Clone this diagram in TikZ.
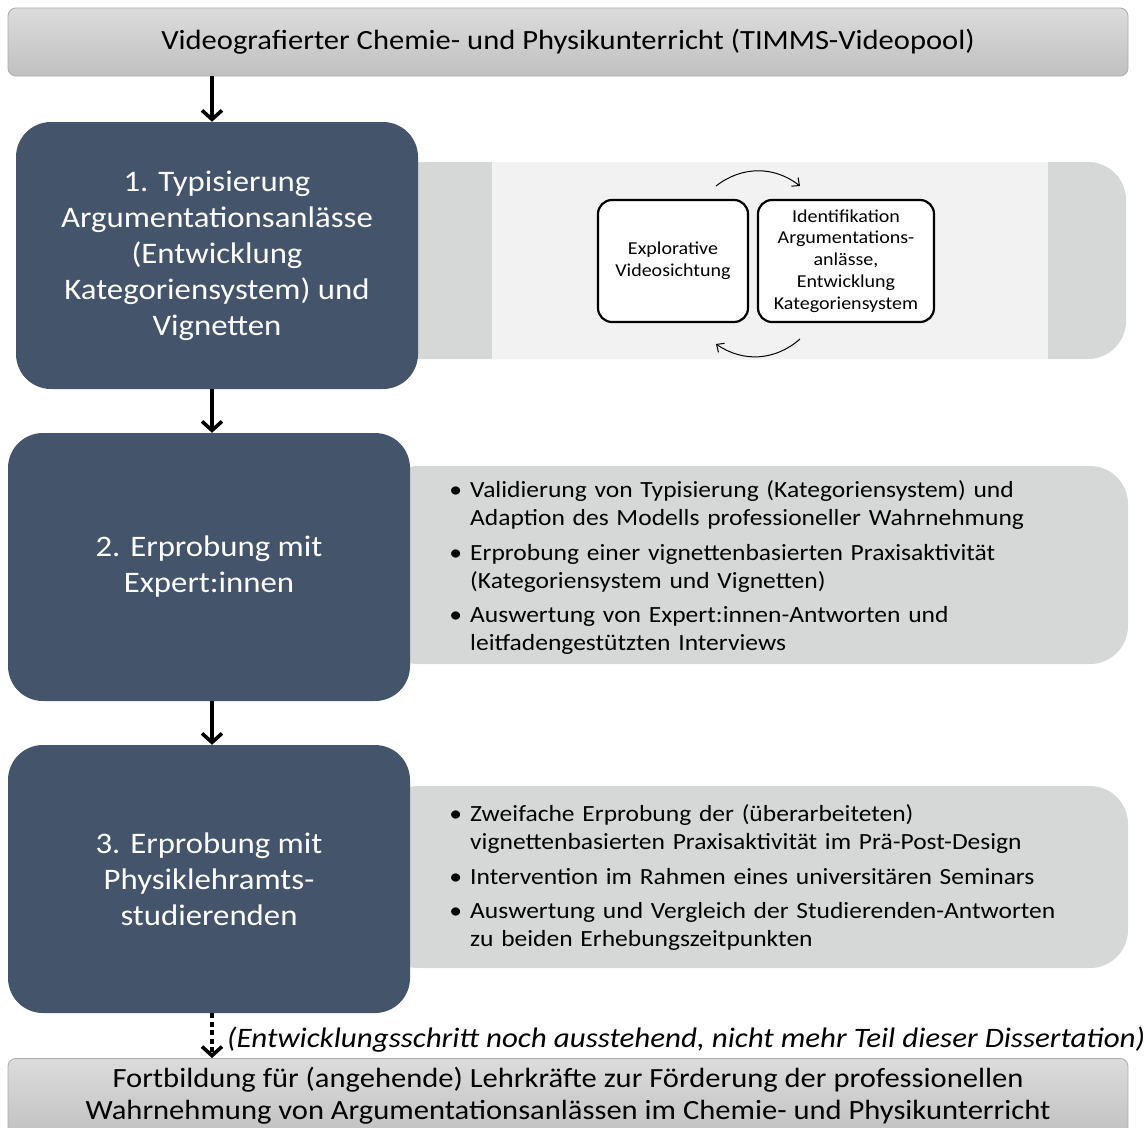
\documentclass[tikz,border=0pt]{standalone}
\usepackage{fontspec}
\setmainfont{Carlito}[FakeStretch=1.1]
\usepackage{enumitem}
\usetikzlibrary{arrows.meta,positioning,calc}
\definecolor{darkbox}{HTML}{44546A}
\definecolor{panelgray}{HTML}{D6D8D8}
\definecolor{panellight}{HTML}{F2F2F2}
\definecolor{topgrayA}{HTML}{DCDCDC}
\definecolor{topgrayB}{HTML}{C0C0C0}
\definecolor{grayborder}{HTML}{ABABAB}
\tikzset{
  graybar/.style={draw=grayborder,line width=0.8pt,top color=topgrayA,bottom color=topgrayB,rounded corners=8pt,inner sep=0pt,align=center,font=\fontsize{27.8}{32}\selectfont},
  bartext/.style={inner sep=0pt,align=center,font=\fontsize{27.8}{32}\selectfont},
  stepbox/.style={fill=darkbox,rounded corners=35pt,text=white,align=center,inner sep=0pt,font=\fontsize{29.8}{36}\selectfont},
  panel/.style={fill=panelgray,rounded corners=38pt},
  minibox/.style={draw=black,line width=2.2pt,fill=white,rounded corners=14pt,align=center,inner sep=0pt,font=\fontsize{18.2}{21.8}\selectfont},
  bigarrow/.style={line width=3.6pt,-{Straight Barb[length=9pt,width=20pt]}},
  dasharrow/.style={line width=3.6pt,dash pattern=on 5pt off 3.5pt,-{Straight Barb[length=9pt,width=20pt]}},
  cyclearrow/.style={line width=1pt,-{Straight Barb[length=6pt,width=11pt]}},
  bullettext/.style={anchor=west,inner sep=0pt,text width=675pt,align=left,font=\fontsize{23.2}{28}\selectfont}
}
\newcommand{\bulletlist}[1]{\begin{itemize}[leftmargin=18pt,labelsep=8pt,itemsep=6.5pt,parsep=0pt,topsep=0pt,partopsep=0pt,label=\textbullet]#1\end{itemize}}
\begin{document}
\begin{tikzpicture}[x=1pt,y=-1pt]
\useasboundingbox (0,0) rectangle (1148,1127);
\clip (0,0) rectangle (1148,1127);

% panels behind the dark boxes
\fill[panel] (380,162) rectangle (1126,359);
\fill[panellight] (492,162) rectangle (1048,359);
\fill[panel] (380,466) rectangle (1128,664);
\fill[panel] (380,786) rectangle (1128,968);

% top and bottom bars
\node[graybar,minimum width=1120pt,minimum height=68pt] (top) at (568,42)
  {Videografierter Chemie- und Physikunterricht (TIMMS-Videopool)};
\node[graybar,minimum width=1120pt,minimum height=80pt,anchor=north] (bottom) at (568,1058) {};
\node[bartext] (bottomtext) at (568,1095.5)
  {Fortbildung für (angehende) Lehrkräfte zur Förderung der professionellen\\ Wahrnehmung von Argumentationsanlässen im Chemie- und Physikunterricht};

% step boxes
\node[stepbox,minimum width=402pt,minimum height=267pt] (s1) at (217,255.5)
  {1. Typisierung\\Argumentationsanlässe\\(Entwicklung\\Kategoriensystem) und\\Vignetten};
\node[stepbox,minimum width=402pt,minimum height=268pt] (s2) at (209,567)
  {2. Erprobung mit\\Expert:innen};
\node[stepbox,minimum width=402pt,minimum height=268pt] (s3) at (209,879)
  {3. Erprobung mit\\Physiklehramts-\\studierenden};

% mini boxes in panel 1
\node[minibox,minimum width=150pt,minimum height=122pt] (m1) at (673,261)
  {Explorative\\Videosichtung};
\node[minibox,minimum width=176pt,minimum height=122pt] (m2) at (846,261)
  {Identifikation\\Argumentations-\\anlässe,\\Entwicklung\\Kategoriensystem};
\coordinate (c1) at (716,186);
\coordinate (c2) at (800,186);
\coordinate (c3) at (800,339);
\coordinate (c4) at (716,344);
\draw[cyclearrow] (c1) to[bend left=38] (c2);
\draw[cyclearrow] (c3) to[bend left=38] (c4);

% bullet texts
\node[bullettext] (t2) at (452,562) {\bulletlist{
  \item Validierung von Typisierung (Kategoriensystem) und\\Adaption des Modells professioneller Wahrnehmung
  \item Erprobung einer vignettenbasierten Praxisaktivität\\(Kategoriensystem und Vignetten)
  \item Auswertung von Expert:innen-Antworten und\\leitfadengestützten Interviews}};
\node[bullettext] (t3) at (452,872) {\bulletlist{
  \item Zweifache Erprobung der (überarbeiteten)\\vignettenbasierten Praxisaktivität im Prä-Post-Design
  \item Intervention im Rahmen eines universitären Seminars
  \item Auswertung und Vergleich der Studierenden-Antworten\\zu beiden Erhebungszeitpunkten}};

% connectors
\coordinate (ax) at (212,0);
\draw[bigarrow] (top.south -| ax) -- (s1.north -| ax);
\draw[bigarrow] (s1.south -| ax) -- (s2.north -| ax);
\draw[bigarrow] (s2.south -| ax) -- (s3.north -| ax);
\draw[dasharrow] (s3.south -| ax) -- (bottom.north -| ax);

\node[anchor=west,inner sep=0pt,font=\fontsize{28.2}{32}\selectfont\itshape] (note) at (227,1040)
  {(Entwicklungsschritt noch ausstehend, nicht mehr Teil dieser Dissertation)};
\end{tikzpicture}
\end{document}
